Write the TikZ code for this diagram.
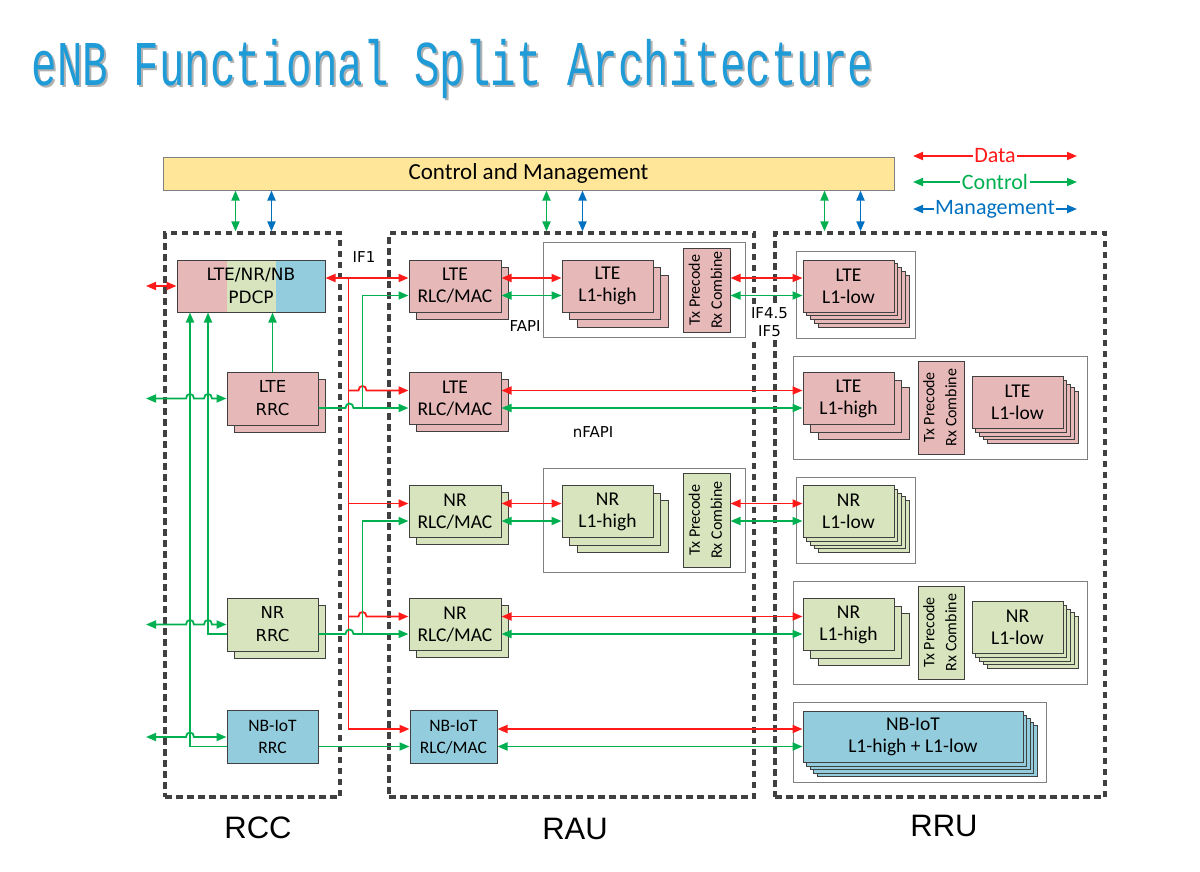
\documentclass[tikz,border=0pt]{standalone}
\usepackage{fontspec}
\usepackage{graphicx}
\setmainfont{Carlito}
\newfontfamily\dvs{DejaVu Sans}
\newfontfamily\lsans{Liberation Sans}
\newfontfamily\lmono{Liberation Mono}
\usetikzlibrary{arrows.meta}
\definecolor{cpink}{HTML}{E6B9B8}
\definecolor{cgreen}{HTML}{D7E4BD}
\definecolor{cblue}{HTML}{93CDDD}
\definecolor{cbar}{HTML}{FFE699}
\definecolor{cred}{HTML}{FF1A1A}
\definecolor{cgrn}{HTML}{00B050}
\definecolor{cmgt}{HTML}{0070C0}
\definecolor{ctitle}{HTML}{1F9BD7}
\definecolor{cdash}{HTML}{404040}
\definecolor{cbord}{HTML}{404040}
\newcommand{\layered}[5]{%
  \foreach \o [count=\k] in {#4}{\node[#3, xshift=\o pt, yshift=-\o pt] (#1-\k) at (#2) {};}%
  \node[#3] (#1) at (#2) {#5};%
}
\newcommand{\txrx}{\rotatebox{90}{\fontsize{16}{22}\selectfont\begin{tabular}{@{}c@{}}Tx Precode\\Rx Combine\end{tabular}}}
\newcommand{\titletext}{\scalebox{1}[1.5]{\lmono\fontsize{42.5}{42.5}\selectfont eNB Functional Split Architecture}}
\begin{document}
\begin{tikzpicture}[x=1pt,y=-1pt,
  >={Triangle[length=10pt,width=8pt]},
  dataln/.style={draw=cred, line width=1.8pt},
  ctrlln/.style={draw=cgrn, line width=1.8pt},
  mgmtln/.style={draw=cmgt, line width=1.8pt},
  blk/.style={rectangle, draw=cbord, line width=1pt, inner sep=0pt, align=center, font=\fontsize{19.5}{22}\selectfont},
  pinkb/.style={blk, fill=cpink},
  greenb/.style={blk, fill=cgreen},
  blueb/.style={blk, fill=cblue},
  holder/.style={rectangle, draw=black!50, line width=1pt, fill=white, inner sep=0pt},
  dbox/.style={rectangle, draw=cdash, line width=3.2pt, dash pattern=on 6.5pt off 4.5pt, inner sep=0pt},
  lbl/.style={inner sep=1pt, font=\dvs\fontsize{15}{18}\selectfont, align=center},
  big/.style={inner sep=0pt, font=\lsans\fontsize{31}{31}\selectfont},
  leg/.style={fill=white, inner sep=1.5pt, font=\fontsize{22}{22}\selectfont}
]
\fill[white] (0,0) rectangle (1200,871);
\useasboundingbox (0,0) rectangle (1200,871);

% title
\node[anchor=base west, inner sep=0, text=black!30] (titsh) at (33.5,87.5) {\titletext};
\node[anchor=base west, inner sep=0, text=ctitle] (tit) at (31.5,85.5) {\titletext};

% dashed groups
\node[dbox, minimum width=175pt, minimum height=564pt] (rcc) at (252.5,515) {};
\node[dbox, minimum width=365pt, minimum height=564pt] (rau) at (571.5,515) {};
\node[dbox, minimum width=330pt, minimum height=564pt] (rru) at (940,515) {};
\node[big] (rcclbl) at (258,828) {RCC};
\node[big] (raulbl) at (575,829) {RAU};
\node[big] (rrulbl) at (944,826) {RRU};

% control and management
\node[rectangle, draw=black!50, line width=1pt, fill=cbar, minimum width=731pt, minimum height=33pt, inner sep=0pt, font=\fontsize{23}{23}\selectfont] (cm) at (528.5,173.5) {Control and Management};

% legend
\coordinate (dA) at (913,156); \coordinate (dB) at (1077,156);
\coordinate (cA) at (913,182); \coordinate (cB) at (1077,182);
\coordinate (mA) at (913,209); \coordinate (mB) at (1077,209);
\draw[dataln,<->] (dA) -- node[leg, text=cred] (legd) {Data} (dB);
\draw[ctrlln,<->] (cA) -- node[leg, text=cgrn] (legc) {Control} (cB);
\draw[mgmtln,<->] (mA) -- node[leg, text=cmgt] (legm) {Management} (mB);

% RCC
\node[blk, fill=cgreen, minimum width=148pt, minimum height=52pt, font=\dvs\fontsize{17}{23}\selectfont,
  path picture={\fill[cpink] (path picture bounding box.north west) rectangle ([xshift=50pt]path picture bounding box.south west);
  \fill[cblue] ([xshift=-49pt]path picture bounding box.north east) rectangle (path picture bounding box.south east);}]
  (pdcp) at (251,286) {LTE/NR/NB\\PDCP};
\layered{lterrc}{272.5,398.5}{pinkb, minimum width=91pt, minimum height=53pt, font=\dvs\fontsize{16.5}{23}\selectfont}{7}{LTE\\RRC}
\layered{nrrrc}{272.5,624.5}{greenb, minimum width=91pt, minimum height=53pt, font=\dvs\fontsize{16.5}{23}\selectfont}{7}{NR\\RRC}
\node[blueb, minimum width=91pt, minimum height=53pt, font=\fontsize{17.5}{22}\selectfont] (nbrrc) at (272.5,737) {NB-IoT\\RRC};

% RAU
\layered{rlc1}{455,286}{pinkb, minimum width=92pt, minimum height=52pt}{7}{LTE\\RLC/MAC}
\layered{rlc2}{455,398.5}{pinkb, minimum width=92pt, minimum height=52pt}{7}{LTE\\RLC/MAC}
\layered{rlc3}{455,511.5}{greenb, minimum width=92pt, minimum height=52pt}{7}{NR\\RLC/MAC}
\layered{rlc4}{455,624.5}{greenb, minimum width=92pt, minimum height=52pt}{7}{NR\\RLC/MAC}
\node[blueb, minimum width=87pt, minimum height=53pt, font=\fontsize{17.5}{22}\selectfont] (nbrlc) at (453.5,737) {NB-IoT\\RLC/MAC};

\node[holder, minimum width=202pt, minimum height=95pt] (hold1) at (644,289.5) {};
\layered{l1h1}{607.5,286}{pinkb, minimum width=91pt, minimum height=52pt}{15,7.5}{LTE\\L1-high}
\node[pinkb, minimum width=47pt, minimum height=84pt] (tx1) at (706.5,290) {\txrx};
\node[holder, minimum width=202pt, minimum height=104pt] (hold3) at (644,520) {};
\layered{l1h3}{607.5,511.5}{greenb, minimum width=91pt, minimum height=52pt}{15,7.5}{NR\\L1-high}
\node[greenb, minimum width=47pt, minimum height=94pt] (tx3) at (706.5,520) {\txrx};

% RRU
\node[holder, minimum width=119pt, minimum height=87pt] (holdr1) at (855.5,294.5) {};
\layered{ll1}{848.5,286}{pinkb, minimum width=91pt, minimum height=52pt}{15,11.25,7.5,3.75}{LTE\\L1-low}
\node[holder, minimum width=294pt, minimum height=103pt] (holdr2) at (940,407.5) {};
\layered{rh2}{848.5,398.5}{pinkb, minimum width=91pt, minimum height=52pt}{15,7.5}{LTE\\L1-high}
\node[pinkb, minimum width=46pt, minimum height=93pt] (tx2) at (941,407.5) {\txrx};
\layered{rl2}{1017.5,402.5}{pinkb, minimum width=91pt, minimum height=52pt}{15,11.25,7.5,3.75}{LTE\\L1-low}
\node[holder, minimum width=119pt, minimum height=86pt] (holdr3) at (855.5,520) {};
\layered{ll3}{848.5,511.5}{greenb, minimum width=91pt, minimum height=52pt}{15,11.25,7.5,3.75}{NR\\L1-low}
\node[holder, minimum width=294pt, minimum height=103pt] (holdr4) at (940,632.5) {};
\layered{rh4}{848.5,624.5}{greenb, minimum width=91pt, minimum height=52pt}{15,7.5}{NR\\L1-high}
\node[greenb, minimum width=46pt, minimum height=93pt] (tx4) at (941,632.5) {\txrx};
\layered{rl4}{1017.5,627.5}{greenb, minimum width=91pt, minimum height=52pt}{15,11.25,7.5,3.75}{NR\\L1-low}
\node[holder, minimum width=253pt, minimum height=80pt] (holdr5) at (919.5,742) {};
\layered{nbl1}{913,737}{blueb, minimum width=220pt, minimum height=51pt}{14,10.5,7,3.5}{NB-IoT\\L1-high + L1-low}

% control-bar links
\coordinate (k1) at ([xshift=73pt]cm.south west);
\coordinate (k2) at ([xshift=109pt]cm.south west);
\coordinate (k3) at ([xshift=384pt]cm.south west);
\coordinate (k4) at ([xshift=420pt]cm.south west);
\coordinate (k5) at ([xshift=662pt]cm.south west);
\coordinate (k6) at ([xshift=698pt]cm.south west);
\draw[ctrlln,<->] (k1) -- (k1 |- rcc.north);
\draw[mgmtln,<->] (k2) -- (k2 |- rcc.north);
\draw[ctrlln,<->] (k3) -- (k3 |- rau.north);
\draw[mgmtln,<->] (k4) -- (k4 |- rau.north);
\draw[ctrlln,<->] (k5) -- (k5 |- rru.north);
\draw[mgmtln,<->] (k6) -- (k6 |- rru.north);

% RCC internal
\coordinate (pin) at (146,286);
\draw[dataln,<->] (pin) -- (pdcp.west);
\draw[ctrlln,->] (lterrc.north) -- (lterrc.north |- pdcp.south);
\draw[ctrlln,<-] ([xshift=-61pt]pdcp.south) |- ([yshift=-9.5pt]nbrrc.west);
\draw[ctrlln,<-] ([xshift=-43pt]pdcp.south) |- ([yshift=-9.5pt]nrrrc.west);
\coordinate (b1) at (146,398.5);
\coordinate (b2) at (146,624.5);
\coordinate (b3) at (146,737);
\draw[ctrlln,<->] (b1) -- ++(40,0) .. controls +(0,-6) and +(0,-6) .. ++(8,0) -- ++(10,0) .. controls +(0,-6) and +(0,-6) .. ++(8,0) -- (lterrc.west);
\draw[ctrlln,<->] (b2) -- ++(40,0) .. controls +(0,-6) and +(0,-6) .. ++(8,0) -- ++(10,0) .. controls +(0,-6) and +(0,-6) .. ++(8,0) -- (nrrrc.west);
\draw[ctrlln,<->] (b3) -- ++(40,0) .. controls +(0,-6) and +(0,-6) .. ++(8,0) -- (nbrrc.west);

% IF1 data
\draw[dataln,<->] ([yshift=8pt]pdcp.east) -- ([yshift=8pt]rlc1.west);
\draw[dataln,->] ([xshift=-60pt,yshift=8pt]rlc1.west) |- ([yshift=8pt]nbrlc.west);
\draw[dataln,->] ([xshift=-60pt,yshift=8pt]rlc2.west) -- ++(10,0) .. controls +(0,-6) and +(0,-6) .. ++(8,0) -- ([yshift=8pt]rlc2.west);
\draw[dataln,->] ([xshift=-60pt,yshift=8pt]rlc3.west) -- ([yshift=8pt]rlc3.west);
\draw[dataln,->] ([xshift=-60pt,yshift=8pt]rlc4.west) -- ++(10,0) .. controls +(0,-6) and +(0,-6) .. ++(8,0) -- ([yshift=8pt]rlc4.west);

% IF1 control
\draw[ctrlln,->] ([yshift=-9.5pt]lterrc.east) -- ++(27,0) .. controls +(0,-6) and +(0,-6) .. ++(8,0) -- ([yshift=-9.5pt]rlc2.west);
\draw[ctrlln,->] ([xshift=-46pt,yshift=-9.5pt]rlc2.west) |- ([yshift=-9.5pt]rlc1.west);
\draw[ctrlln,->] ([yshift=-9.5pt]nrrrc.east) -- ++(27,0) .. controls +(0,-6) and +(0,-6) .. ++(8,0) -- ([yshift=-9.5pt]rlc4.west);
\draw[ctrlln,->] ([xshift=-46pt,yshift=-9.5pt]rlc4.west) |- ([yshift=-9.5pt]rlc3.west);
\draw[ctrlln,->] ([yshift=-9.5pt]nbrrc.east) -- ([yshift=-9.5pt]nbrlc.west);

% RAU internal (FAPI)
\draw[dataln,<->] ([yshift=8pt]rlc1.east) -- ([yshift=8pt]l1h1.west);
\draw[ctrlln,<->] ([yshift=-9.5pt]rlc1.east) -- ([yshift=-9.5pt]l1h1.west);
\draw[dataln,<->] ([yshift=8pt]rlc3.east) -- ([yshift=8pt]l1h3.west);
\draw[ctrlln,<->] ([yshift=-9.5pt]rlc3.east) -- ([yshift=-9.5pt]l1h3.west);

% RAU -> RRU
\coordinate (q1r) at ([yshift=8pt]ll1.west);
\coordinate (q1g) at ([yshift=-9.5pt]ll1.west);
\coordinate (q3r) at ([yshift=8pt]ll3.west);
\coordinate (q3g) at ([yshift=-9.5pt]ll3.west);
\draw[dataln,<->] (tx1.east |- q1r) -- (q1r);
\draw[ctrlln,<->] (tx1.east |- q1g) -- (q1g);
\draw[dataln,<->] (tx3.east |- q3r) -- (q3r);
\draw[ctrlln,<->] (tx3.east |- q3g) -- (q3g);
\draw[dataln,<->] ([yshift=8pt]rlc2.east) -- ([yshift=8pt]rh2.west);
\draw[ctrlln,<->] ([yshift=-9.5pt]rlc2.east) -- ([yshift=-9.5pt]rh2.west);
\draw[dataln,<->] ([yshift=8pt]rlc4.east) -- ([yshift=8pt]rh4.west);
\draw[ctrlln,<->] ([yshift=-9.5pt]rlc4.east) -- ([yshift=-9.5pt]rh4.west);
\draw[dataln,<->] ([yshift=8pt]nbrlc.east) -- ([yshift=8pt]nbl1.west);
\draw[ctrlln,<->] ([yshift=-9.5pt]nbrlc.east) -- ([yshift=-9.5pt]nbl1.west);

% labels
\node[lbl] (if1) at (364,257) {IF1};
\node[lbl] (fapi) at (525,326) {FAPI};
\node[lbl] (nfapi) at (593,432) {nFAPI};
\node[lbl, fill=white] (if45) at (769.5,322) {IF4.5\\IF5};
\end{tikzpicture}
\end{document}
